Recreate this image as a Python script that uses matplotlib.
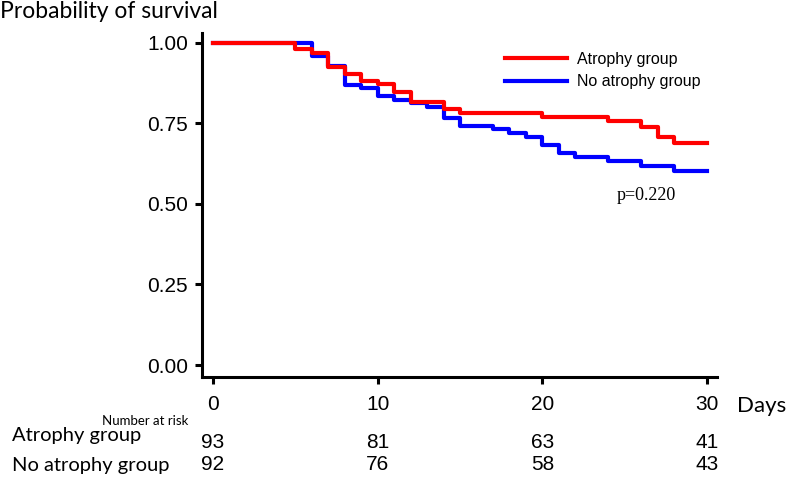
import matplotlib
matplotlib.use("Agg")
import matplotlib.pyplot as plt
import matplotlib.transforms as mtransforms

# ---- data ----
red_label = "Atrophy group"
blue_label = "No atrophy group"
red_times = [0, 5, 6, 7, 8, 9, 10, 11, 12, 14, 15, 20, 24, 26, 27, 28, 30]
red_surv = [1.0, 0.980, 0.968, 0.926, 0.904, 0.883, 0.873, 0.849, 0.818, 0.794,
            0.782, 0.769, 0.759, 0.740, 0.707, 0.690, 0.690]
blue_times = [0, 6, 7, 8, 9, 10, 11, 12, 13, 14, 15, 17, 18, 19, 20, 21, 22, 24, 26, 28, 30]
blue_surv = [1.0, 0.960, 0.928, 0.870, 0.859, 0.835, 0.823, 0.813, 0.802, 0.766,
             0.742, 0.732, 0.720, 0.707, 0.683, 0.657, 0.645, 0.634, 0.618, 0.603, 0.603]
x_ticks = [0, 10, 20, 30]
y_ticks = [0.00, 0.25, 0.50, 0.75, 1.00]
y_ticklabels = ["0.00", "0.25", "0.50", "0.75", "1.00"]
risk_red = [93, 81, 63, 41]
risk_blue = [92, 76, 58, 43]
p_text = "p=0.220"

W, H = 787, 492
fig = plt.figure(figsize=(W / 100, H / 100), dpi=100)
ax = fig.add_axes([202 / W, 1 - 376.6 / H, 515 / W, 343.3 / H])

ax.step(blue_times, blue_surv, where="post", color="#0000FF", lw=3, label=blue_label, zorder=3)
ax.step(red_times, red_surv, where="post", color="#FF0000", lw=3, label=red_label, zorder=4)

ax.set_xlim(-0.67, 30.6)
ax.set_ylim(-0.036, 1.03)
for s in ["top", "right"]:
    ax.spines[s].set_visible(False)
for s in ["left", "bottom"]:
    ax.spines[s].set_linewidth(2.2)
    ax.spines[s].set_color("black")

ax.set_xticks(x_ticks)
ax.set_xticklabels([str(t) for t in x_ticks], fontfamily="Liberation Sans", fontsize=15)
ax.set_yticks(y_ticks)
ax.set_yticklabels(y_ticklabels, fontfamily="Liberation Sans", fontsize=15)
ax.tick_params(axis="x", length=5, width=2.2, pad=8)
ax.tick_params(axis="y", length=5, width=2.2, pad=5)

# legend (red first)
handles, labels = ax.get_legend_handles_labels()
order = [labels.index(red_label), labels.index(blue_label)]
leg = ax.legend([handles[i] for i in order], [labels[i] for i in order],
                loc="upper left", bbox_to_anchor=(497 / W, 1 - 44 / H),
                bbox_transform=fig.transFigure, frameon=False, borderpad=0,
                handlelength=3.9, handletextpad=0.6, labelspacing=0.45,
                prop={"family": "Liberation Sans", "size": 11.5})

ax.text(617 / W, 1 - 195 / H, p_text, transform=fig.transFigure, ha="left", va="center",
        fontfamily="Liberation Serif", fontsize=13)

fig.text(0, 1 - 12 / H, "Probability of survival", ha="left", va="center",
         fontfamily="Lato", fontsize=16.5)
fig.text(737 / W, 1 - 406 / H, "Days", ha="left", va="center", fontfamily="Lato", fontsize=16)

# number at risk table
fig.text(188 / W, 1 - 421 / H, "Number at risk", ha="right", va="center",
         fontfamily="Lato", fontsize=9.5)
fig.text(12 / W, 1 - 436 / H, red_label, ha="left", va="center", fontfamily="Lato", fontsize=14.5)
fig.text(12 / W, 1 - 465 / H, blue_label, ha="left", va="center", fontfamily="Lato", fontsize=14.5)
trans = mtransforms.blended_transform_factory(ax.transData, fig.transFigure)
for t, n in zip(x_ticks, risk_red):
    ax.text(t, 1 - 443 / H, str(n), transform=trans, ha="center", va="center",
            fontfamily="Liberation Sans", fontsize=15, clip_on=False)
for t, n in zip(x_ticks, risk_blue):
    ax.text(t, 1 - 465 / H, str(n), transform=trans, ha="center", va="center",
            fontfamily="Liberation Sans", fontsize=15, clip_on=False)

fig.savefig("out.png", dpi=100)
